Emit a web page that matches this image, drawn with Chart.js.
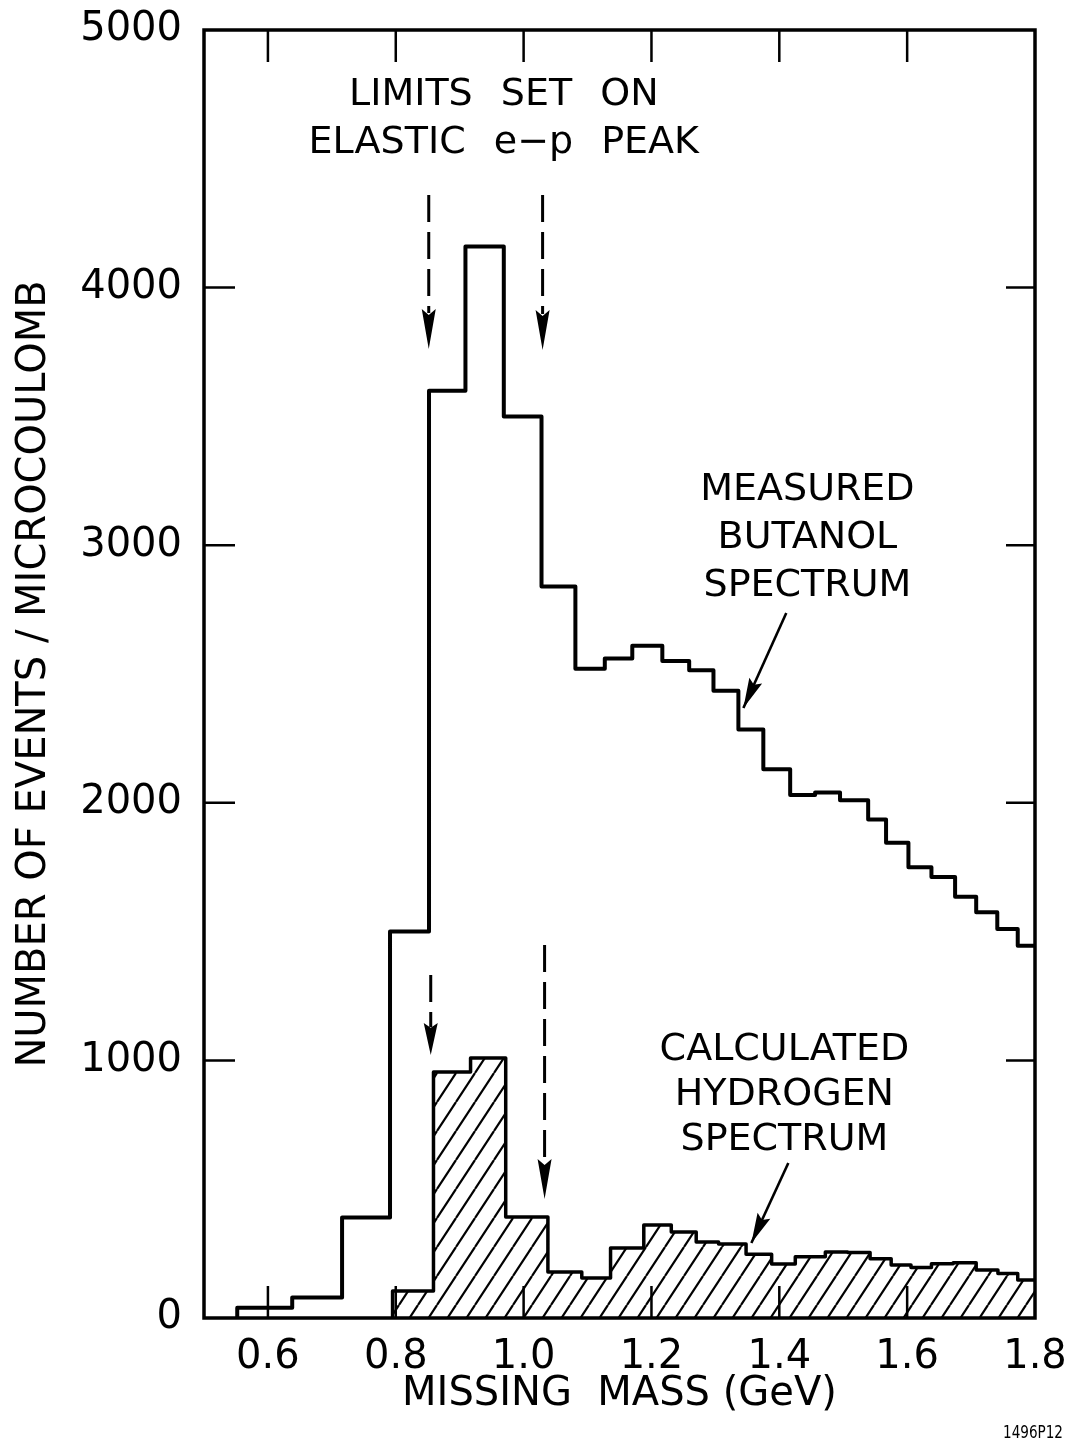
<!DOCTYPE html>
<html>
<head>
<meta charset="utf-8">
<script src="https://cdn.jsdelivr.net/npm/chart.js@4.4.1/dist/chart.umd.min.js"></script>
<style>
  html, body { margin: 0; padding: 0; background: #fff; }
  #c { display: block; }
</style>
</head>
<body>
<canvas id="c" width="1071" height="1443"></canvas>
<script>
// ---------- data ----------
const xTickValues = [0.6, 0.8, 1.0, 1.2, 1.4, 1.6, 1.8];
const yTickValues = [0, 1000, 2000, 3000, 4000, 5000];

// Measured butanol spectrum: bin edges (GeV) and counts per bin
const butanolEdges = [0.552, 0.638, 0.716, 0.791, 0.852, 0.909, 0.969, 1.028, 1.081, 1.127,
  1.170, 1.217, 1.259, 1.297, 1.336, 1.375, 1.417, 1.456, 1.495, 1.539, 1.567, 1.602,
  1.638, 1.675, 1.708, 1.741, 1.773, 1.800];
const butanolCounts = [40, 80, 390, 1500, 3600, 4160, 3500, 2840, 2520, 2560,
  2610, 2550, 2515, 2435, 2285, 2130, 2030, 2040, 2010, 1935, 1845,
  1750, 1712, 1635, 1575, 1510, 1445];

// Calculated hydrogen spectrum
const hydrogenEdges = [0.795, 0.859, 0.917, 0.972, 1.038, 1.091, 1.136, 1.188, 1.231, 1.270,
  1.305, 1.348, 1.388, 1.425, 1.472, 1.507, 1.542, 1.575, 1.606, 1.638, 1.672, 1.708,
  1.742, 1.773, 1.800];
const hydrogenCounts = [105, 955, 1009, 392, 179, 155, 272, 361, 334, 295,
  287, 247, 210, 238, 256, 254, 230, 206, 196, 211, 214, 186,
  173, 148];

const xTitle = 'MISSING  MASS (GeV)';
const yTitle = 'NUMBER OF EVENTS / MICROCOULOMB';

// ---------- annotation placement (data coordinates) ----------
const notes = [
  { lines: ['LIMITS SET ON', 'ELASTIC e\u2212p PEAK'], x: 0.969, y: [4748, 4561] },
  { lines: ['MEASURED', 'BUTANOL', 'SPECTRUM'], x: 1.444, y: [3214, 3028, 2842] },
  { lines: ['CALCULATED', 'HYDROGEN', 'SPECTRUM'], x: 1.408, y: [1040, 866, 691] }
];
const dashedArrows = [
  { x: 0.8516, y0: 4359, y1: 3762 },
  { x: 1.0297, y0: 4359, y1: 3758 },
  { x: 0.8547, y0: 1332, y1: 1021 },
  { x: 1.0328, y0: 1448, y1: 462 }
];
const labelArrows = [
  { x0: 1.4109, y0: 2737, x1: 1.3438, y1: 2368 },
  { x0: 1.4141, y0: 602, x1: 1.3563, y1: 291 }
];

function histPoints(edges, counts) {
  const pts = [{ x: edges[0], y: 0 }];
  for (let i = 0; i < counts.length; i++) pts.push({ x: edges[i], y: counts[i] });
  pts.push({ x: edges[edges.length - 1], y: counts[counts.length - 1] });
  return pts;
}

function hatchPattern() {
  const w = 19, h = 29;
  const c = document.createElement('canvas');
  c.width = w; c.height = h;
  const g = c.getContext('2d');
  g.fillStyle = '#fff';
  g.fillRect(0, 0, w, h);
  g.strokeStyle = '#000';
  g.lineWidth = 2.2;
  for (const dx of [-w, 0, w]) {
    g.beginPath();
    g.moveTo(dx, h);
    g.lineTo(dx + w, 0);
    g.stroke();
  }
  return g.createPattern(c, 'repeat');
}

const FONT = '"DejaVu Sans", "Liberation Sans", sans-serif';
const ctx0 = document.getElementById('c').getContext('2d');

function arrowHead(ctx, x0, y0, x1, y1, len, half) {
  const a = Math.atan2(y1 - y0, x1 - x0);
  const bx = x1 - len * Math.cos(a), by = y1 - len * Math.sin(a);
  const nx = -Math.sin(a) * half, ny = Math.cos(a) * half;
  ctx.beginPath();
  ctx.moveTo(x1, y1);
  ctx.lineTo(bx + nx, by + ny);
  ctx.lineTo(bx + len * 0.15 * Math.cos(a), by + len * 0.15 * Math.sin(a));
  ctx.lineTo(bx - nx, by - ny);
  ctx.closePath();
  ctx.fill();
}

const framePlugin = {
  id: 'frame',
  afterDraw(chart) {
    const { ctx, chartArea: ca, scales: { x, y } } = chart;
    ctx.save();
    ctx.strokeStyle = '#000';
    ctx.fillStyle = '#000';
    // frame
    ctx.lineWidth = 3.5;
    ctx.strokeRect(ca.left, ca.top, ca.right - ca.left, ca.bottom - ca.top);
    // inward ticks
    ctx.lineWidth = 2.5;
    ctx.beginPath();
    xTickValues.forEach(v => {
      if (v <= x.min || v >= x.max) return;
      const px = x.getPixelForValue(v);
      ctx.moveTo(px, ca.bottom); ctx.lineTo(px, ca.bottom - 32);
      ctx.moveTo(px, ca.top); ctx.lineTo(px, ca.top + 32);
    });
    yTickValues.forEach(v => {
      if (v <= y.min || v >= y.max) return;
      const py = y.getPixelForValue(v);
      ctx.moveTo(ca.left, py); ctx.lineTo(ca.left + 31, py);
      ctx.moveTo(ca.right, py); ctx.lineTo(ca.right - 29, py);
    });
    ctx.stroke();

    // dashed arrows
    ctx.lineWidth = 3;
    dashedArrows.forEach(a => {
      const px = x.getPixelForValue(a.x);
      const p0 = y.getPixelForValue(a.y0), p1 = y.getPixelForValue(a.y1);
      const head = Math.min(40, (p1 - p0) * 0.4);
      ctx.setLineDash([27, 10]);
      ctx.beginPath();
      ctx.moveTo(px, p0); ctx.lineTo(px, p1 - head + 4);
      ctx.stroke();
      ctx.setLineDash([]);
      arrowHead(ctx, px, p0, px, p1, head, 7);
    });

    // label arrows
    ctx.lineWidth = 2.6;
    labelArrows.forEach(a => {
      const x0 = x.getPixelForValue(a.x0), y0 = y.getPixelForValue(a.y0);
      const x1 = x.getPixelForValue(a.x1), y1 = y.getPixelForValue(a.y1);
      ctx.beginPath();
      ctx.moveTo(x0, y0); ctx.lineTo(x1, y1);
      ctx.stroke();
      arrowHead(ctx, x0, y0, x1, y1, 30, 7);
    });

    // texts
    ctx.font = '38px ' + FONT;
    ctx.textAlign = 'center';
    ctx.textBaseline = 'middle';
    try { ctx.wordSpacing = '16px'; } catch (e) {}
    notes.forEach(n => {
      const px = x.getPixelForValue(n.x);
      n.lines.forEach((t, i) => ctx.fillText(t, px, y.getPixelForValue(n.y[i])));
    });
    try { ctx.wordSpacing = '0px'; } catch (e) {}

    // figure id
    ctx.font = '18px ' + FONT;
    ctx.textAlign = 'right';
    ctx.fillText('1496P12', chart.width - 8, chart.height - 10, 60);
    ctx.restore();
  }
};

new Chart(ctx0, {
  type: 'line',
  data: {
    datasets: [
      {
        label: 'Measured butanol spectrum',
        data: histPoints(butanolEdges, butanolCounts),
        stepped: true,
        borderColor: '#000',
        borderWidth: 4,
        borderJoinStyle: 'round',
        pointRadius: 0,
        fill: false
      },
      {
        label: 'Calculated hydrogen spectrum',
        data: histPoints(hydrogenEdges, hydrogenCounts),
        stepped: true,
        borderColor: '#000',
        borderWidth: 3.5,
        borderJoinStyle: 'round',
        pointRadius: 0,
        backgroundColor: hatchPattern(),
        fill: 'origin'
      }
    ]
  },
  options: {
    responsive: false,
    animation: false,
    devicePixelRatio: 1,
    layout: { padding: { top: 30, right: 36, left: 0, bottom: 0 } },
    plugins: { legend: { display: false }, tooltip: { enabled: false } },
    scales: {
      x: {
        type: 'linear',
        min: 0.5,
        max: 1.8,
        afterBuildTicks: s => { s.ticks = xTickValues.map(v => ({ value: v })); },
        afterFit: s => { s.height = 125; s.paddingLeft = 0; s.paddingRight = 0; s.paddingTop = 0; s.paddingBottom = 0; },
        grid: { display: false, drawTicks: false },
        border: { display: false },
        ticks: {
          color: '#000',
          font: { family: FONT, size: 40 },
          padding: 16,
          maxRotation: 0,
          autoSkip: false,
          callback: v => Number(v).toFixed(1)
        },
        title: {
          display: true,
          text: xTitle,
          color: '#000',
          font: { family: FONT, size: 40 },
          padding: { top: 0, bottom: 24 }
        }
      },
      y: {
        type: 'linear',
        min: 0,
        max: 5000,
        afterBuildTicks: s => { s.ticks = yTickValues.map(v => ({ value: v })); },
        afterFit: s => { s.width = 204; s.paddingLeft = 0; s.paddingRight = 0; s.paddingTop = 0; s.paddingBottom = 0; },
        grid: { display: false, drawTicks: false },
        border: { display: false },
        ticks: {
          color: '#000',
          font: { family: FONT, size: 40 },
          padding: 22,
          autoSkip: false,
          callback: v => String(v)
        },
        title: {
          display: true,
          text: yTitle,
          color: '#000',
          font: { family: FONT, size: 40 },
          padding: { top: 11, bottom: 0 }
        }
      }
    }
  },
  plugins: [framePlugin]
});
</script>
</body>
</html>
